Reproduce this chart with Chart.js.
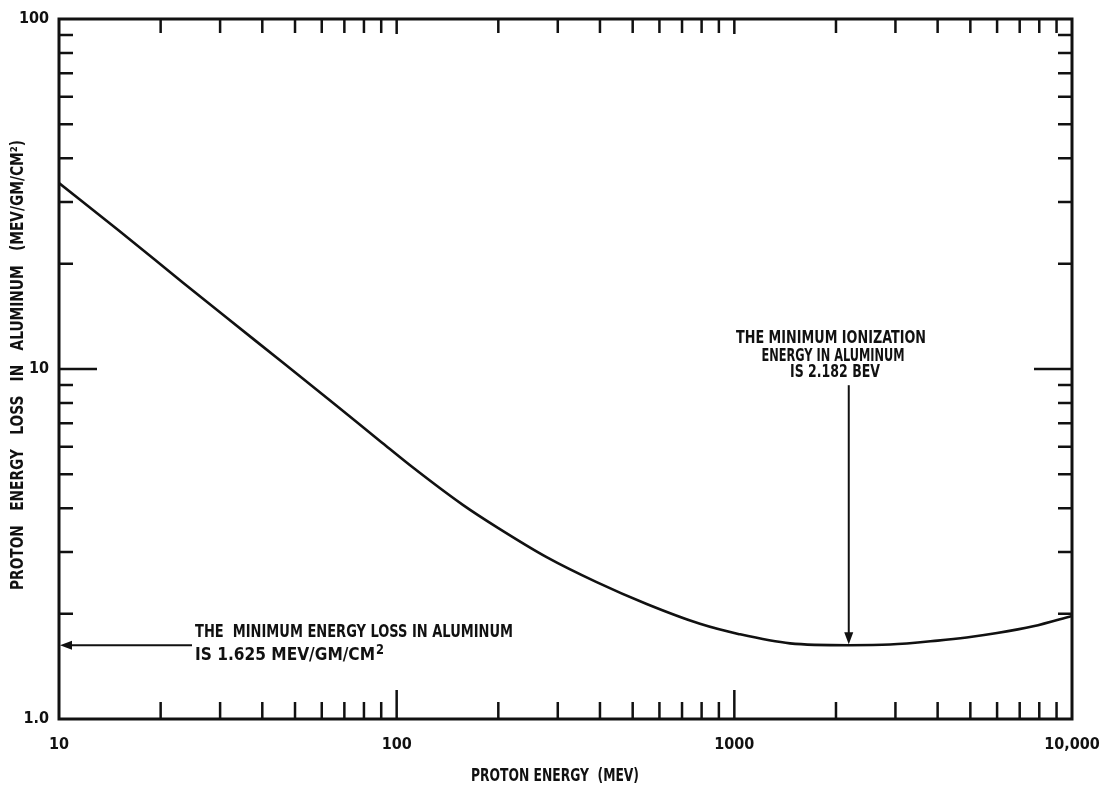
<!DOCTYPE html>
<html>
<head>
<meta charset="utf-8">
<script src="https://cdn.jsdelivr.net/npm/chart.js@4.4.1/dist/chart.umd.min.js"></script>
<style>
  html, body { margin: 0; padding: 0; background: #fff; }
  #wrap { width: 1110px; height: 790px; }
</style>
</head>
<body>
<div id="wrap"><canvas id="c" width="1110" height="790"></canvas></div>
<script>
// Proton energy (MeV) and energy loss in aluminum (MeV/g/cm^2)
const energyMeV = [10, 15, 23.3, 32, 46.2, 65, 89.2, 112, 157, 200, 278, 391, 550, 791, 1027, 1462, 2182, 2891, 4000, 4876, 6000, 7675, 10000];
const lossMeV = [34.0, 24.9, 17.65, 13.8, 10.4, 7.98, 6.23, 5.22, 4.09, 3.51, 2.90, 2.46, 2.13, 1.87, 1.75, 1.645, 1.625, 1.632, 1.675, 1.71, 1.76, 1.84, 1.97];

// Axis tick values and labels
const xTickValues = [10, 100, 1000, 10000];
const xTickLabels = ['10', '100', '1000', '10,000'];
const yTickValues = [1, 10, 100];
const yTickLabels = ['1.0', '10', '100'];
const xMinorTicks = [20, 30, 40, 50, 60, 70, 80, 90, 200, 300, 400, 500, 600, 700, 800, 900, 2000, 3000, 4000, 5000, 6000, 7000, 8000, 9000];
const xMajorInner = [100, 1000];
const yMinorTicks = [2, 3, 4, 5, 6, 7, 8, 9, 20, 30, 40, 50, 60, 70, 80, 90];
const yMajorInner = [10];

// Minimum energy loss and the energy where it occurs
const minLoss = 1.625;
const minLossEnergy = 2182;

const INK = '#111';
const FONT = '"Liberation Sans Narrow", "DejaVu Sans Condensed", "Liberation Sans", sans-serif';

function fitText(ctx, text, x, y, width, size, align) {
  ctx.save();
  ctx.font = 'bold ' + size + 'px ' + FONT;
  const w = ctx.measureText(text).width;
  ctx.translate(x, y);
  ctx.scale(width / w, 1);
  ctx.textAlign = align;
  ctx.textBaseline = 'middle';
  ctx.fillStyle = INK;
  ctx.fillText(text, 0, 0);
  ctx.restore();
}

const framePlugin = {
  id: 'frameTicksNotes',
  afterDatasetsDraw(chart) {
    const { ctx, chartArea: a, scales } = chart;
    const xs = scales.x, ys = scales.y;
    ctx.save();
    ctx.strokeStyle = INK;
    ctx.fillStyle = INK;
    ctx.lineCap = 'butt';

    // frame
    ctx.lineWidth = 3;
    ctx.strokeRect(a.left, a.top, a.right - a.left, a.bottom - a.top);

    // inward tick marks
    ctx.lineWidth = 2.5;
    const vtick = (v, lenB, lenT) => {
      const px = xs.getPixelForValue(v);
      ctx.beginPath();
      ctx.moveTo(px, a.bottom); ctx.lineTo(px, a.bottom - lenB);
      ctx.moveTo(px, a.top); ctx.lineTo(px, a.top + lenT);
      ctx.stroke();
    };
    const htick = (v, lenL, lenR) => {
      const py = ys.getPixelForValue(v);
      ctx.beginPath();
      ctx.moveTo(a.left, py); ctx.lineTo(a.left + lenL, py);
      ctx.moveTo(a.right, py); ctx.lineTo(a.right - lenR, py);
      ctx.stroke();
    };
    xMinorTicks.forEach(v => vtick(v, 17, 14));
    xMajorInner.forEach(v => vtick(v, 29, 15));
    yMinorTicks.forEach(v => htick(v, 14, 14));
    yMajorInner.forEach(v => htick(v, 38, 38));

    // arrow to the minimum energy loss on the y axis
    const yMin = ys.getPixelForValue(minLoss);
    ctx.lineWidth = 2;
    ctx.beginPath();
    ctx.moveTo(a.left + 10, yMin); ctx.lineTo(a.left + 133, yMin);
    ctx.stroke();
    ctx.beginPath();
    ctx.moveTo(a.left + 1, yMin);
    ctx.lineTo(a.left + 13, yMin - 4.5);
    ctx.lineTo(a.left + 13, yMin + 4.5);
    ctx.closePath(); ctx.fill();

    // arrow down to the minimum-ionization energy
    const xMin = xs.getPixelForValue(minLossEnergy);
    ctx.beginPath();
    ctx.moveTo(xMin, yMin - 260); ctx.lineTo(xMin, yMin - 10);
    ctx.stroke();
    ctx.beginPath();
    ctx.moveTo(xMin, yMin - 1);
    ctx.lineTo(xMin - 4.5, yMin - 13);
    ctx.lineTo(xMin + 4.5, yMin - 13);
    ctx.closePath(); ctx.fill();
    ctx.restore();

    // notes
    fitText(ctx, 'THE MINIMUM IONIZATION', 831, 338, 190, 18, 'center');
    fitText(ctx, 'ENERGY IN ALUMINUM', 833, 356, 143, 18, 'center');
    fitText(ctx, 'IS 2.182 BEV', 835, 372, 90, 18, 'center');
    fitText(ctx, 'THE  MINIMUM ENERGY LOSS IN ALUMINUM', 195, 632, 318, 18, 'left');
    fitText(ctx, 'IS 1.625 MEV/GM/CM', 195, 655, 180, 18, 'left');
    fitText(ctx, '2', 376, 650, 8, 14, 'left');

    // axis titles
    fitText(ctx, 'PROTON ENERGY  (MEV)', 555, 776, 168, 18, 'center');
    ctx.save();
    ctx.translate(19, 365);
    ctx.rotate(-Math.PI / 2);
    fitText(ctx, 'PROTON   ENERGY   LOSS   IN   ALUMINUM   (MEV/GM/CM²)', 0, 0, 450, 17, 'center');
    ctx.restore();
  }
};

new Chart(document.getElementById('c'), {
  type: 'line',
  data: {
    datasets: [{
      data: energyMeV.map((e, i) => ({ x: e, y: lossMeV[i] })),
      borderColor: INK,
      borderWidth: 2.6,
      pointRadius: 0,
      fill: false,
      cubicInterpolationMode: 'monotone'
    }]
  },
  options: {
    responsive: false,
    animation: false,
    layout: { padding: { top: 19, right: 38, left: 0, bottom: 0 } },
    plugins: { legend: { display: false }, tooltip: { enabled: false } },
    scales: {
      x: {
        type: 'logarithmic',
        min: 10, max: 10000,
        grid: { display: false, drawTicks: false },
        border: { display: false },
        afterBuildTicks: s => { s.ticks = xTickValues.map(v => ({ value: v })); },
        afterFit: s => { s.height = 71; s.paddingLeft = 0; s.paddingRight = 0; },
        ticks: {
          autoSkip: false, maxRotation: 0, padding: 16,
          color: INK,
          font: { family: FONT, size: 16, weight: 'bold' },
          callback: v => xTickLabels[xTickValues.indexOf(v)]
        }
      },
      y: {
        type: 'logarithmic',
        min: 1, max: 100,
        grid: { display: false, drawTicks: false },
        border: { display: false },
        afterBuildTicks: s => { s.ticks = yTickValues.map(v => ({ value: v })); },
        afterFit: s => { s.width = 59; s.paddingTop = 0; s.paddingBottom = 0; },
        ticks: {
          autoSkip: false, padding: 10,
          color: INK,
          font: { family: FONT, size: 16, weight: 'bold' },
          callback: v => yTickLabels[yTickValues.indexOf(v)]
        }
      }
    }
  },
  plugins: [framePlugin]
});
</script>
</body>
</html>
